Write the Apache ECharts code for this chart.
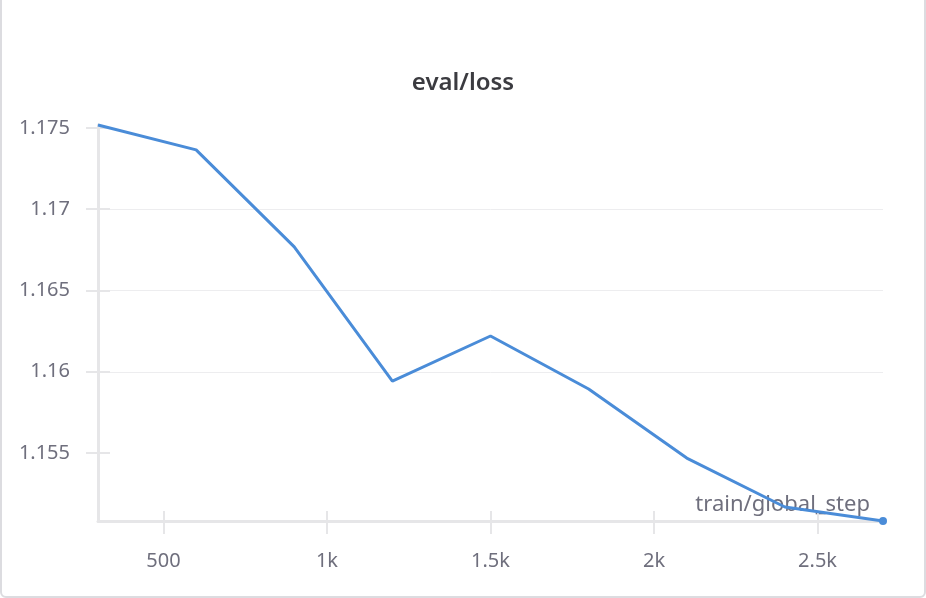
<!DOCTYPE html>
<html>
<head>
<meta charset="utf-8">
<script src="https://cdn.jsdelivr.net/npm/echarts@6/dist/echarts.min.js"></script>
<style>
  html, body { margin: 0; padding: 0; background: #fff; }
  .frame {
    position: absolute; left: 0; top: -6px; width: 922px; height: 600px;
    border: 2px solid #dcdce0; border-radius: 6px;
  }
  .charts { position: absolute; left: 0; top: 0; width: 926px; height: 598px; }
</style>
</head>
<body>
<div class="frame"></div>
<div class="charts" id="main"></div>
<script>
// global step of each eval, and the loss
const steps = [300, 600, 900, 1200, 1500, 1800, 2100, 2400, 2700];
const lossVals = [1.17518, 1.17365, 1.16768, 1.15943, 1.1622, 1.15894, 1.15469, 1.15168, 1.15082];
const xTicks = [500, 1000, 1500, 2000, 2500];
const yTicks = [1.155, 1.16, 1.165, 1.17, 1.175];

const labelColor = "#6f6f7d";
const lineColor = "#4a8cd8";
const font = "Noto Sans";

const yMin = Math.min(...lossVals);
const yMax = Math.max(...lossVals);
const xMin = steps[0];
const xMax = steps[steps.length - 1];

function fmtStep(v) {
  return v >= 1000 ? v / 1000 + "k" : String(v);
}

const seriesData = steps.map((s, i) => {
  if (i === steps.length - 1) {
    return { value: [s, lossVals[i]], symbol: "circle", symbolSize: 8 };
  }
  return [s, lossVals[i]];
});

const myChart = echarts.init(document.getElementById("main"));
const option = {
  animation: false,
  title: {
    text: "eval/loss",
    left: "center",
    top: 66,
    textStyle: { fontFamily: font, fontSize: 24, fontWeight: 600, color: "#3b3b40" },
  },
  grid: { left: 98, right: 43, top: 125, bottom: 77, outerBoundsMode: "none", containLabel: false },
  xAxis: [
    {
      type: "value",
      min: xMin,
      max: xMax,
      position: "bottom",
      name: "train/global_step",
      nameLocation: "end",
      nameGap: -13,
      nameTextStyle: {
        fontFamily: font, fontSize: 22, color: labelColor,
        align: "right", verticalAlign: "bottom", padding: [0, 0, 5, 0],
      },
      axisLine: { show: true, lineStyle: { color: "#e6e6e8", width: 3 } },
      axisTick: { show: true, length: 13, customValues: xTicks, lineStyle: { color: "#e6e6e8", width: 2 } },
      axisLabel: {
        customValues: xTicks,
        margin: 30,
        fontFamily: font, fontSize: 20, color: labelColor,
        formatter: fmtStep,
      },
      splitLine: { show: false },
    },
    {
      type: "value",
      min: xMin,
      max: xMax,
      position: "bottom",
      axisLine: { show: false },
      axisTick: { show: true, inside: true, length: 10, customValues: xTicks, lineStyle: { color: "#e6e6e8", width: 2 } },
      axisLabel: { show: false },
      splitLine: { show: false },
    },
  ],
  yAxis: [
    {
      type: "value",
      min: yMin,
      max: yMax,
      position: "left",
      axisLine: { show: true, lineStyle: { color: "#e6e6e8", width: 3 } },
      axisTick: { show: true, length: 12, customValues: yTicks, lineStyle: { color: "#e6e6e8", width: 2 } },
      axisLabel: {
        customValues: yTicks,
        margin: 28,
        fontFamily: font, fontSize: 20, color: labelColor,
        formatter: (v) => String(+v.toFixed(3)),
      },
      splitLine: { show: true, showMinLine: false, showMaxLine: false, lineStyle: { color: "#ededef", width: 1 } },
    },
    {
      type: "value",
      min: yMin,
      max: yMax,
      position: "left",
      axisLine: { show: false },
      axisTick: { show: true, inside: true, length: 12, customValues: yTicks, lineStyle: { color: "#e6e6e8", width: 2 } },
      axisLabel: { show: false },
      splitLine: { show: false },
    },
  ],
  series: [
    {
      name: "eval/loss",
      type: "line",
      xAxisIndex: 0,
      yAxisIndex: 0,
      symbol: "none",
      showSymbol: true,
      clip: false,
      z: 5,
      lineStyle: { color: lineColor, width: 3 },
      itemStyle: { color: lineColor },
      data: seriesData,
    },
  ],
};
myChart.setOption(option);
</script>
</body>
</html>
